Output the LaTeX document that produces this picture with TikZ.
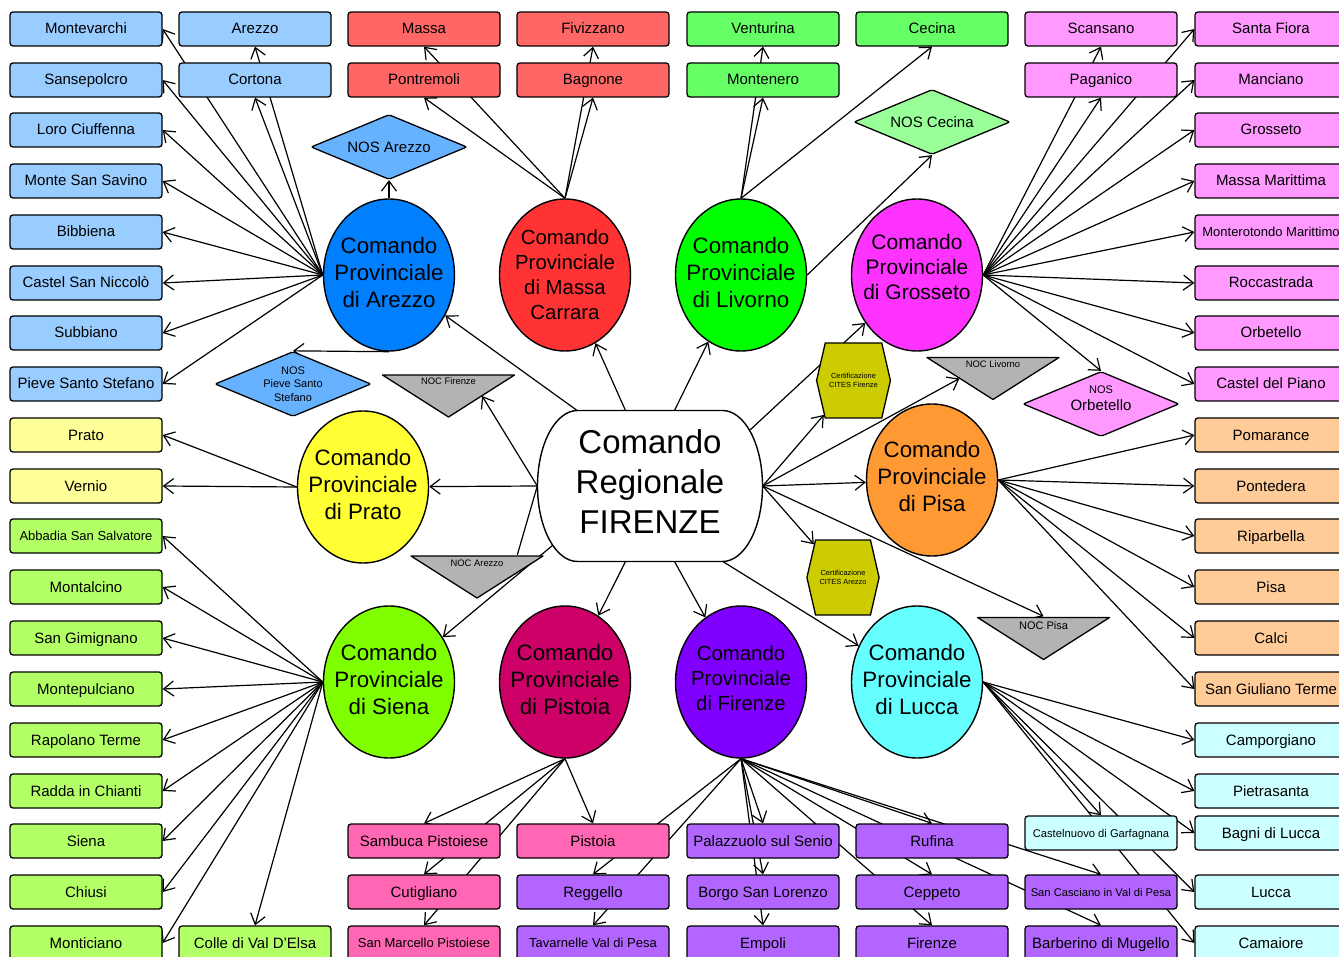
\documentclass[tikz,border=0pt]{standalone}
\usepackage{fontspec}
\setmainfont{Liberation Sans}
\usepackage{xcolor}
\usepackage{tikz}
\usetikzlibrary{shapes,arrows.meta,positioning,calc,backgrounds}

% box colours
\definecolor{arezzobox}{HTML}{99CCFF}
\definecolor{massabox}{HTML}{FF6666}
\definecolor{livornobox}{HTML}{66FF66}
\definecolor{grossetobox}{HTML}{FF99FF}
\definecolor{pisabox}{HTML}{FFCC99}
\definecolor{luccabox}{HTML}{CCFFFF}
\definecolor{pratobox}{HTML}{FFFF99}
\definecolor{sienabox}{HTML}{B3FF66}
\definecolor{pistoiabox}{HTML}{FF66B3}
\definecolor{firenzebox}{HTML}{B266FF}
% command colours
\definecolor{arezzofill}{HTML}{007FFF}
\definecolor{massafill}{HTML}{FF3333}
\definecolor{livornofill}{HTML}{00FF00}
\definecolor{grossetofill}{HTML}{FF33FF}
\definecolor{pratofill}{HTML}{FFFF33}
\definecolor{pisafill}{HTML}{FF9933}
\definecolor{sienafill}{HTML}{80FF00}
\definecolor{pistoiafill}{HTML}{CC0066}
\definecolor{firenzefill}{HTML}{7F00FF}
\definecolor{luccafill}{HTML}{66FFFF}
% special units
\definecolor{nosblue}{HTML}{66B2FF}
\definecolor{nosgreen}{HTML}{99FF99}
\definecolor{nospink}{HTML}{FF99FF}
\definecolor{nocgray}{HTML}{B3B3B3}
\definecolor{citesyellow}{HTML}{CCCC00}

\tikzset{
  box/.style={draw, line width=1.3pt, rounded corners=3pt, minimum width=152pt,
    minimum height=34pt, inner sep=0pt, text height=10pt, text depth=0pt,
    font=\fontsize{15}{17}\selectfont},
  smalltxt/.style={text height=9.3pt, font=\fontsize{13}{15}\selectfont},
  tinytxt/.style={text height=8pt, font=\fontsize{11.2}{13}\selectfont},
  prov/.style={ellipse, draw, line width=1.4pt, minimum width=131pt, minimum height=152pt,
    inner xsep=-10pt, inner ysep=0pt, text depth=6pt, align=center,
    font=\fontsize{22.3}{27}\selectfont},
  regio/.style={minimum width=225pt, minimum height=151pt, inner sep=0pt,
    text depth=8pt, align=center, font=\fontsize{33}{40}\selectfont},
  nos/.style={diamond, aspect=2.4, draw, line width=1.3pt, rounded corners=2pt,
    minimum width=156pt, minimum height=65pt, inner sep=0pt, align=center,
    font=\fontsize{15}{17}\selectfont},
  noc/.style={minimum width=134pt, minimum height=44pt, inner sep=0pt, text height=11pt,
    text depth=33pt, font=\fontsize{9.4}{11}\selectfont,
    path picture={\filldraw[fill=nocgray, line width=1.3pt, line join=round]
      ([shift={(1pt,-1pt)}]path picture bounding box.north west)
      -- ([shift={(-1pt,-1pt)}]path picture bounding box.north east)
      -- ([yshift=1pt]path picture bounding box.south) -- cycle;}},
  cites/.style={signal, signal to=east and west, signal pointer angle=154, draw,
    line width=1.3pt, fill=citesyellow, minimum width=70pt, minimum height=75pt,
    inner xsep=4pt, inner ysep=29pt, align=center, font=\fontsize{7.4}{9}\selectfont},
  arr/.style={-{Straight Barb[length=10pt,width=15pt]}, line width=1.2pt},
  link/.style={line width=1.2pt},
}

\begin{document}
\begin{tikzpicture}[x=1pt, y=-1pt]
\useasboundingbox (0,0) rectangle (1339,957);
\clip (0,0) rectangle (1339,957);

% regional command
\node[regio] (regional) at (650,486) {Comando\\Regionale\\FIRENZE};
\draw[line width=1.4pt] (577.5,410.5) -- (722.5,410.5)
  .. controls (744.6,410.5) and (762.5,444.3) .. (762.5,486)
  .. controls (762.5,527.7) and (744.6,561.5) .. (722.5,561.5)
  -- (577.5,561.5)
  .. controls (555.4,561.5) and (537.5,527.7) .. (537.5,486)
  .. controls (537.5,444.3) and (555.4,410.5) .. (577.5,410.5) -- cycle;

% provincial commands
\node[prov, fill=arezzofill] (arezzo) at (389,275) {Comando\\Provinciale\\di Arezzo};
\node[prov, fill=massafill, text depth=0pt, font=\fontsize{20.4}{25}\selectfont] (massacarrara) at (565,275) {Comando\\Provinciale\\di Massa\\Carrara};
\node[prov, fill=livornofill] (livorno) at (741,275) {Comando\\Provinciale\\di Livorno};
\node[prov, fill=grossetofill, text depth=16pt, font=\fontsize{21}{25}\selectfont] (grosseto) at (917,275) {Comando\\Provinciale\\di Grosseto};
\node[prov, fill=pratofill] (prato) at (363,487) {Comando\\Provinciale\\di Prato};
\node[prov, fill=pisafill, text depth=8pt] (pisa) at (932,480) {Comando\\Provinciale\\di Pisa};
\node[prov, fill=sienafill] (siena) at (389,682) {Comando\\Provinciale\\di Siena};
\node[prov, fill=pistoiafill] (pistoia) at (565,682) {Comando\\Provinciale\\di Pistoia};
\node[prov, fill=firenzefill, text depth=8pt, font=\fontsize{20.4}{25}\selectfont] (firenze) at (741,682) {Comando\\Provinciale\\di Firenze};
\node[prov, fill=luccafill] (lucca) at (917,682) {Comando\\Provinciale\\di Lucca};

% NOS, NOC and CITES units
\node[nos, fill=nosblue] (nosarezzo) at (389,147) {NOS Arezzo};
\node[nos, fill=nosblue, font=\fontsize{11}{13.5}\selectfont] (nospieve) at (293,384) {NOS\\Pieve Santo\\Stefano};
\node[nos, fill=nosgreen] (noscecina) at (932,122) {NOS Cecina};
\node[nos, fill=nospink, text depth=12pt] (nosorbetello) at (1101,404) {{\fontsize{11}{13}\selectfont NOS}\\Orbetello};

\node[noc] (nocfirenze) at (448.5,396) {NOC Firenze};
\node[noc] (nocarezzo) at (477,577) {NOC Arezzo};
\node[noc] (noclivorno) at (993,378.5) {NOC Livorno};
\node[noc, text height=13pt, text depth=31pt, font=\fontsize{11}{13}\selectfont] (nocpisa) at (1043.5,638.5) {NOC Pisa};

\node[cites] (citesfirenze) at (853.5,380.5) {Certificazione\\CITES Firenze};
\node[cites] (citesarezzo) at (843,577.5) {Certificazione\\CITES Arezzo};

% stations
\foreach \n/\x/\y/\t in {montevarchi/86/29/Montevarchi, sansepolcro/86/80/Sansepolcro,
    loro/86/130/Loro Ciuffenna, savino/86/181/Monte San Savino, bibbiena/86/232/Bibbiena,
    niccolo/86/283/Castel San Niccolò, subbiano/86/333/Subbiano,
    pieve/86/384/Pieve Santo Stefano, arezzocity/255/29/Arezzo, cortona/255/80/Cortona}
  \node[box, fill=arezzobox] (\n) at (\x,\y) {\t};

\foreach \n/\x/\y/\t in {massacity/424/29/Massa, pontremoli/424/80/Pontremoli,
    fivizzano/593/29/Fivizzano, bagnone/593/80/Bagnone}
  \node[box, fill=massabox] (\n) at (\x,\y) {\t};

\foreach \n/\x/\y/\t in {venturina/763/29/Venturina, montenero/763/80/Montenero,
    cecina/932/29/Cecina}
  \node[box, fill=livornobox] (\n) at (\x,\y) {\t};

\foreach \n/\x/\y/\t in {scansano/1101/29/Scansano, paganico/1101/80/Paganico,
    santafiora/1271/29/Santa Fiora, manciano/1271/80/Manciano,
    grossetocity/1271/130/Grosseto, massamarittima/1271/181/Massa Marittima,
    roccastrada/1271/283/Roccastrada, orbetello/1271/333/Orbetello,
    casteldelpiano/1271/384/Castel del Piano}
  \node[box, fill=grossetobox] (\n) at (\x,\y) {\t};
\node[box, smalltxt, fill=grossetobox] (monterotondo) at (1271,232) {Monterotondo Marittimo};

\foreach \n/\x/\y/\t in {pomarance/1271/435/Pomarance, pontedera/1271/486/Pontedera,
    riparbella/1271/536/Riparbella, pisacity/1271/587/Pisa, calci/1271/638/Calci,
    sangiuliano/1271/689/San Giuliano Terme}
  \node[box, fill=pisabox] (\n) at (\x,\y) {\t};

\foreach \n/\x/\y/\t in {camporgiano/1271/740/Camporgiano, pietrasanta/1271/791/Pietrasanta,
    bagni/1271/833/Bagni di Lucca, luccacity/1271/892/Lucca, camaiore/1271/943/Camaiore}
  \node[box, fill=luccabox] (\n) at (\x,\y) {\t};
\node[box, tinytxt, fill=luccabox] (castelnuovo) at (1101,833) {Castelnuovo di Garfagnana};

\foreach \n/\x/\y/\t in {pratocity/86/435/Prato, vernio/86/486/Vernio}
  \node[box, fill=pratobox] (\n) at (\x,\y) {\t};

\foreach \n/\x/\y/\t in {montalcino/86/587/Montalcino, sangimignano/86/638/San Gimignano,
    montepulciano/86/689/Montepulciano, rapolano/86/740/Rapolano Terme,
    radda/86/791/Radda in Chianti, sienacity/86/841/Siena, chiusi/86/892/Chiusi,
    monticiano/86/943/Monticiano, colle/255/943/Colle di Val D'Elsa}
  \node[box, fill=sienabox] (\n) at (\x,\y) {\t};
\node[box, smalltxt, fill=sienabox] (abbadia) at (86,536) {Abbadia San Salvatore};

\foreach \n/\x/\y/\t in {sambuca/424/841/Sambuca Pistoiese, cutigliano/424/892/Cutigliano,
    pistoiacity/593/841/Pistoia}
  \node[box, fill=pistoiabox] (\n) at (\x,\y) {\t};
\node[box, smalltxt, fill=pistoiabox] (sanmarcello) at (424,943) {San Marcello Pistoiese};

\foreach \n/\x/\y/\t in {reggello/593/892/Reggello, palazzuolo/763/841/Palazzuolo sul Senio,
    borgo/763/892/Borgo San Lorenzo, empoli/763/943/Empoli, rufina/932/841/Rufina,
    ceppeto/932/892/Ceppeto, firenzecity/932/943/Firenze,
    barberino/1101/943/Barberino di Mugello}
  \node[box, fill=firenzebox] (\n) at (\x,\y) {\t};
\node[box, smalltxt, fill=firenzebox] (tavarnelle) at (593,943) {Tavarnelle Val di Pesa};
\node[box, tinytxt, fill=firenzebox] (sancasciano) at (1101,892) {San Casciano in Val di Pesa};

% connectors, behind the nodes
\begin{scope}[on background layer]
  \draw[arr] (regional.134) -- (arezzo);
  \draw[arr] (regional.108) -- (massacarrara);
  \draw[arr] (regional.72) -- (livorno);
  \draw[arr] ([xshift=-12.5pt,yshift=-19.5pt]regional.north east) -- (grosseto);
  \draw[arr] (regional.east) -- (citesfirenze);
  \draw[arr] (regional.east) -- ($(noclivorno.north west)!0.5!(noclivorno.south)$);
  \draw[arr] (regional.east) -- (pisa);
  \draw[arr] (regional.east) -- (nocpisa.north);
  \draw[arr] (regional.east) -- (citesarezzo);
  \draw[arr] (regional.-46) -- (lucca);
  \draw[arr] (regional.-72) -- (firenze);
  \draw[arr] (regional.-108) -- (pistoia);
  \draw[arr] ([xshift=15.5pt,yshift=16.5pt]regional.south west) -- (siena);
  \draw[arr] (regional.west) -- (prato);
  \draw[arr] (regional.west) -- ($(nocfirenze.north east)!0.5!(nocfirenze.south)$);
  \draw[link] (regional.west) -- ($(nocarezzo.north west)!0.8!(nocarezzo.north east)$);

  % Arezzo
  \foreach \t in {montevarchi,sansepolcro,loro,savino,bibbiena,niccolo,subbiano,pieve}
    \draw[arr] (arezzo.west) -- (\t.east);
  \foreach \t in {arezzocity,cortona}
    \draw[arr] (arezzo.west) -- (\t.south);
  \draw[arr] (arezzo.north) -- (nosarezzo.south);
  \draw[arr] (arezzo.south) -- (nospieve.north);

  % Massa Carrara
  \foreach \t in {massacity,pontremoli,fivizzano,bagnone}
    \draw[arr] (massacarrara.north) -- (\t.south);

  % Livorno
  \foreach \t in {venturina,montenero,cecina}
    \draw[arr] (livorno.north) -- (\t.south);
  \draw[arr] (livorno.east) -- (noscecina.south);

  % Grosseto
  \foreach \t in {scansano,paganico}
    \draw[arr] (grosseto.east) -- (\t.south);
  \foreach \t in {santafiora,manciano,grossetocity,massamarittima,monterotondo,
      roccastrada,orbetello,casteldelpiano}
    \draw[arr] (grosseto.east) -- (\t.west);
  \draw[arr] (grosseto.east) -- (nosorbetello.north);

  % Prato
  \foreach \t in {pratocity,vernio}
    \draw[arr] (prato.west) -- (\t.east);

  % Pisa
  \foreach \t in {pomarance,pontedera,riparbella,pisacity,calci,sangiuliano}
    \draw[arr] (pisa.east) -- (\t.west);

  % Siena
  \foreach \t in {abbadia,montalcino,sangimignano,montepulciano,rapolano,radda,
      sienacity,chiusi,monticiano}
    \draw[arr] (siena.west) -- (\t.east);
  \draw[arr] (siena.west) -- (colle.north);

  % Pistoia
  \foreach \t in {sambuca,cutigliano,sanmarcello,pistoiacity}
    \draw[arr] (pistoia.south) -- (\t.north);

  % Firenze
  \foreach \t in {reggello,tavarnelle,palazzuolo,borgo,empoli,rufina,ceppeto,
      firenzecity,sancasciano,barberino}
    \draw[arr] (firenze.south) -- (\t.north);

  % Lucca
  \foreach \t in {camporgiano,pietrasanta,bagni,luccacity,camaiore}
    \draw[arr] (lucca.east) -- (\t.west);
  \draw[arr] (lucca.east) -- (castelnuovo.north);
\end{scope}
\end{tikzpicture}
\end{document}
